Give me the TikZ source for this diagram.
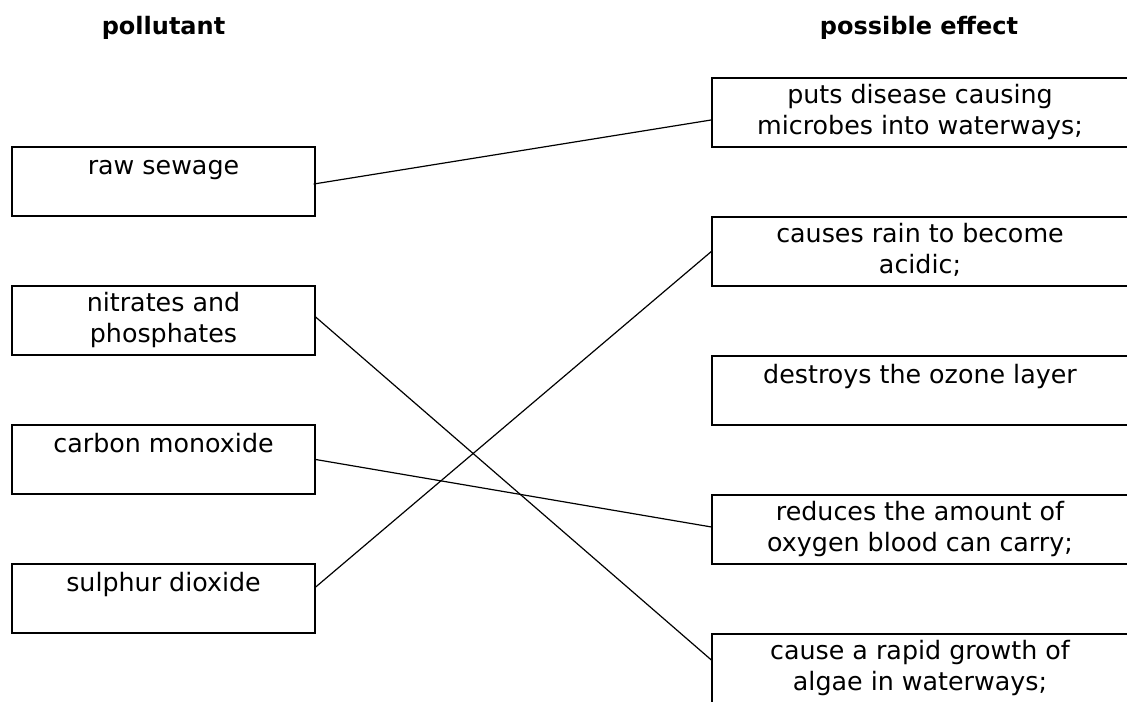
\documentclass[tikz,border=0pt]{standalone}
\usepackage{fontspec}
\setmainfont{DejaVu Sans}
\usepackage{tikz}
\usetikzlibrary{positioning, calc}

\tikzset{
    lbox/.style={draw=black, line width=1pt, rectangle, inner sep=0pt,
        minimum width=227.25pt, minimum height=51.75pt},
    rbox/.style={lbox, minimum width=312pt},
    boxtext/.style={anchor=north, align=center, inner sep=0pt,
        font=\fontsize{19}{23.25}\selectfont, execute at begin node=\strut},
    headtext/.style={anchor=base, inner sep=0pt,
        font=\fontsize{18}{22}\selectfont\bfseries},
    matchline/.style={draw=black, line width=0.9pt}
}

\begin{document}
\begin{tikzpicture}[x=0.75pt, y=-0.75pt]
    \useasboundingbox (0,0) rectangle (1127,702);
    \clip (0,0) rectangle (1127,702);

    % column headings
    \node[headtext] (hpol) at (163.5,35) {pollutant};
    \node[headtext] (heff) at (919,35) {possible effect};

    % pollutants
    \node[lbox] (rs) at (163.5,181.5) {};
    \node[lbox] (np) at (163.5,320.5) {};
    \node[lbox] (co) at (163.5,459.5) {};
    \node[lbox] (sd) at (163.5,598.5) {};
    \node[boxtext] (rs-t) at ([yshift=-4.7pt]rs.north) {raw sewage};
    \node[boxtext] (np-t) at ([yshift=-4.7pt]np.north) {nitrates and\\phosphates};
    \node[boxtext] (co-t) at ([yshift=-4.7pt]co.north) {carbon monoxide};
    \node[boxtext] (sd-t) at ([yshift=-4.7pt]sd.north) {sulphur dioxide};

    % effects
    \node[rbox] (pd) at (920,112.5) {};
    \node[rbox] (cr) at (920,251.5) {};
    \node[rbox] (oz) at (920,390.5) {};
    \node[rbox] (ra) at (920,529.5) {};
    \node[rbox] (rg) at (920,668.5) {};
    \node[boxtext] (pd-t) at ([yshift=-4.7pt]pd.north) {puts disease causing\\microbes into waterways;};
    \node[boxtext] (cr-t) at ([yshift=-4.7pt]cr.north) {causes rain to become\\acidic;};
    \node[boxtext] (oz-t) at ([yshift=-4.7pt]oz.north) {destroys the ozone layer};
    \node[boxtext] (ra-t) at ([yshift=-4.7pt]ra.north) {reduces the amount of\\oxygen blood can carry;};
    \node[boxtext] (rg-t) at ([yshift=-4.7pt]rg.north) {cause a rapid growth of\\algae in waterways;};

    % answers
    \draw[matchline] ([xshift=-1.5pt, yshift=-1.9pt]rs.east) -- ([yshift=-5.6pt]pd.west);
    \draw[matchline] ([yshift=2.6pt]np.east) -- ([yshift=6.4pt]rg.west);
    \draw[matchline] (co.east) -- ([yshift=1.9pt]ra.west);
    \draw[matchline] ([yshift=8.6pt]sd.east) -- (cr.west);
\end{tikzpicture}
\end{document}
